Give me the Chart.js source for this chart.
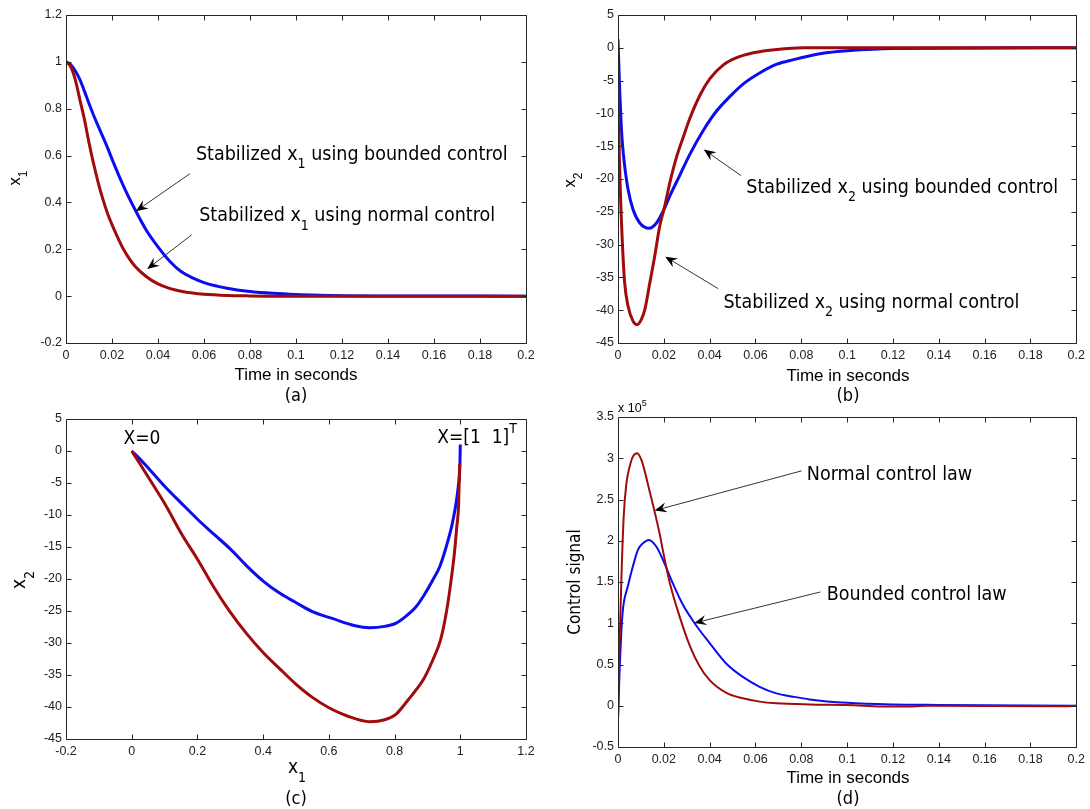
<!DOCTYPE html>
<html><head><meta charset="utf-8">
<script src="https://cdn.jsdelivr.net/npm/chart.js@4.4.1/dist/chart.umd.min.js"></script>
<style>
html,body{margin:0;padding:0;background:#fff;}
#wrap{position:relative;width:1090px;height:809px;overflow:hidden;background:#fff;}
canvas{position:absolute;}
</style></head><body>
<div id="wrap">
<canvas id="ca" width="545" height="409" style="left:0;top:0"></canvas>
<canvas id="cb" width="545" height="409" style="left:545px;top:0"></canvas>
<canvas id="cc" width="545" height="409" style="left:0;top:400px"></canvas>
<canvas id="cd" width="545" height="409" style="left:545px;top:400px"></canvas>
</div>
<script>
// ---------------- DATA ----------------
// (a) x1 vs time
const tA_normal  = [0, 0.002, 0.004, 0.006, 0.008, 0.010, 0.012, 0.014, 0.016, 0.018, 0.020, 0.0225, 0.025, 0.0275, 0.030, 0.035, 0.040, 0.045, 0.050, 0.055, 0.060, 0.070, 0.080, 0.090, 0.100, 0.120, 0.200];
const x1_normal  = [1, 0.98, 0.925, 0.84, 0.755, 0.655, 0.565, 0.485, 0.415, 0.355, 0.305, 0.25, 0.20, 0.16, 0.128, 0.083, 0.052, 0.033, 0.021, 0.013, 0.008, 0.003, 0.001, 0, 0, 0, 0];
const tA_bounded = [0, 0.002, 0.004, 0.006, 0.008, 0.010, 0.012, 0.015, 0.018, 0.020, 0.025, 0.030, 0.035, 0.040, 0.045, 0.050, 0.055, 0.060, 0.070, 0.080, 0.090, 0.100, 0.110, 0.120, 0.140, 0.200];
const x1_bounded = [1, 0.988, 0.962, 0.925, 0.875, 0.822, 0.772, 0.703, 0.635, 0.585, 0.47, 0.37, 0.28, 0.21, 0.15, 0.105, 0.078, 0.058, 0.034, 0.02, 0.012, 0.007, 0.004, 0.002, 0.001, 0];

// (b) x2 vs time
const tB_normal  = [0, 0.0004, 0.001, 0.0019, 0.0029, 0.0044, 0.0066, 0.0083, 0.0102, 0.0117, 0.0139, 0.016, 0.0182, 0.0204, 0.0226, 0.0255, 0.0285, 0.0314, 0.0358, 0.0401, 0.046, 0.0518, 0.0591, 0.0693, 0.081, 0.100, 0.200];
const x2_normal  = [-3, -13.5, -21.6, -29.7, -35.8, -39.4, -41.7, -42.2, -41.4, -39.9, -35.8, -31.8, -27.2, -24.1, -20.6, -16.7, -13.6, -10.7, -7.2, -4.7, -2.6, -1.5, -0.76, -0.25, 0, 0, 0];
const tB_bounded = [0, 0.0004, 0.0008, 0.0013, 0.0019, 0.0029, 0.0044, 0.0066, 0.0095, 0.0136, 0.0168, 0.0197, 0.0226, 0.027, 0.0314, 0.0372, 0.0431, 0.0489, 0.0547, 0.062, 0.0693, 0.0766, 0.0839, 0.090, 0.100, 0.120, 0.200];
const x2_bounded = [1.3, -3, -7, -11, -14.5, -18, -21.6, -24.7, -26.7, -27.5, -26.7, -24.9, -22.6, -19.4, -16.2, -12.6, -9.6, -7.4, -5.5, -3.8, -2.5, -1.8, -1.2, -0.8, -0.45, -0.1, 0];

// (c) phase plane x2 vs x1
const ph_x1_normal  = [0.998, 0.995, 0.989, 0.982, 0.97, 0.957, 0.94, 0.916, 0.89, 0.866, 0.835, 0.805, 0.77, 0.724, 0.656, 0.603, 0.55, 0.497, 0.45, 0.402, 0.349, 0.296, 0.25, 0.201, 0.15, 0.106, 0.053, 0.02, 0];
const ph_x2_normal  = [-2, -8.2, -12, -16, -21, -25.4, -29.5, -32.7, -35.5, -37.3, -39.3, -41.1, -42, -42.3, -41.4, -40.2, -38.5, -36.3, -34, -31.6, -28.5, -24.9, -21.3, -17, -12.8, -8.7, -4.3, -1.6, 0];
const ph_x1_bounded = [1, 0.999, 0.995, 0.987, 0.975, 0.957, 0.938, 0.916, 0.89, 0.866, 0.835, 0.805, 0.77, 0.724, 0.68, 0.6125, 0.55, 0.497, 0.45, 0.402, 0.349, 0.302, 0.25, 0.201, 0.15, 0.1, 0.053, 0.02, 0];
const ph_x2_bounded = [1, -2, -5, -8.2, -11.5, -15, -18, -20.2, -22.5, -24.3, -25.8, -26.9, -27.4, -27.6, -27.3, -26.2, -25.1, -23.6, -22.2, -20.4, -17.9, -15.4, -13.0, -10.7, -8.1, -5.5, -2.8, -1, 0];

// (d) control signal vs time
const tD_normal  = [0, 0.0007, 0.0015, 0.0025, 0.0036, 0.0051, 0.0065, 0.0083, 0.0102, 0.0116, 0.0138, 0.016, 0.0182, 0.0196, 0.0225, 0.0269, 0.0313, 0.0356, 0.040, 0.0473, 0.0545, 0.0618, 0.0691, 0.0836, 0.100, 0.115, 0.125, 0.135, 0.195, 0.200];
const u_normal   = [-19000, 76000, 156000, 230000, 268000, 290000, 302000, 306000, 298000, 285000, 260000, 235000, 208000, 188000, 150000, 108000, 73000, 48000, 31000, 15500, 9000, 5000, 3000, 1600, 1000, -800, -1000, 0, -600, 0];
const tD_bounded = [0, 0.0007, 0.0015, 0.0022, 0.0044, 0.0065, 0.0087, 0.0109, 0.0135, 0.0167, 0.0196, 0.024, 0.0284, 0.0342, 0.040, 0.0473, 0.0545, 0.0618, 0.0691, 0.0764, 0.0836, 0.100, 0.120, 0.140, 0.200];
const u_bounded  = [-17000, 43000, 92000, 118000, 146000, 169000, 189000, 197000, 201000, 193000, 177000, 148000, 122000, 97000, 76000, 51000, 35000, 23000, 15000, 11000, 7700, 3500, 1500, 1000, 0];

// tick values & labels
const timeTicks      = [0, 0.02, 0.04, 0.06, 0.08, 0.1, 0.12, 0.14, 0.16, 0.18, 0.2];
const timeTickLabels = ['0','0.02','0.04','0.06','0.08','0.1','0.12','0.14','0.16','0.18','0.2'];
const x1Ticks        = [-0.2, 0, 0.2, 0.4, 0.6, 0.8, 1, 1.2];
const x1TickLabels   = ['-0.2','0','0.2','0.4','0.6','0.8','1','1.2'];
const x2Ticks        = [-45, -40, -35, -30, -25, -20, -15, -10, -5, 0, 5];
const x2TickLabels   = ['-45','-40','-35','-30','-25','-20','-15','-10','-5','0','5'];
const uTicks         = [-50000, 0, 50000, 100000, 150000, 200000, 250000, 300000, 350000];
const uTickLabels    = ['-0.5','0','0.5','1','1.5','2','2.5','3','3.5'];

// ---------------- STYLE ----------------
const RED = '#A00B0B', BLUE = '#0C0CF0';
const ARIAL = '"Liberation Sans", Arial, sans-serif';
const TAH = '"DejaVu Sans Condensed", "DejaVu Sans", sans-serif';
const NOTE = 19.5;

function pts(xs, ys){ return xs.map((x,i)=>({x:x, y:ys[i]})); }

function axis(vals, labels, fitSize, isX){
  return {
    type:'linear', min: Math.min.apply(null, vals), max: Math.max.apply(null, vals),
    grid:{display:false, drawTicks:false}, border:{display:false},
    afterBuildTicks: s => { s.ticks = vals.map(v=>({value:v})); },
    afterFit: s => { if(isX) s.height = fitSize; else s.width = fitSize; },
    ticks:{autoSkip:false, maxRotation:0, minRotation:0, padding: isX?5:4, color:'#222',
      font:{family:ARIAL, size:12.5}, callback:(v,i)=>labels[i]}
  };
}

function ds(xs, ys, color, w){
  return {data:pts(xs,ys), borderColor:color, backgroundColor:color, borderWidth:w,
    pointRadius:0, showLine:true, fill:false, cubicInterpolationMode:'monotone'};
}

const frame = {
  id:'frame',
  afterDatasetsDraw(chart){
    const ctx = chart.ctx, a = chart.chartArea, sx = chart.scales.x, sy = chart.scales.y;
    ctx.save();
    ctx.strokeStyle = '#262626'; ctx.lineWidth = 1;
    const l = Math.round(a.left)+0.5, r = Math.round(a.right)+0.5, t = Math.round(a.top)+0.5, b = Math.round(a.bottom)+0.5;
    ctx.beginPath(); ctx.rect(l, t, r-l, b-t);
    const L = 5;
    sx.ticks.forEach(tk=>{ const p = Math.round(sx.getPixelForValue(tk.value))+0.5;
      ctx.moveTo(p,b); ctx.lineTo(p,b-L); ctx.moveTo(p,t); ctx.lineTo(p,t+L); });
    sy.ticks.forEach(tk=>{ const p = Math.round(sy.getPixelForValue(tk.value))+0.5;
      ctx.moveTo(l,p); ctx.lineTo(l+L,p); ctx.moveTo(r,p); ctx.lineTo(r-L,p); });
    ctx.stroke();
    ctx.restore();
  }
};

function drawRich(ctx, parts, x, y, size, family, align, rot, color){
  const fontOf = k => (k ? Math.round(size*0.72) : size) + 'px ' + family;
  let total = 0; const ws = [];
  parts.forEach(p=>{ ctx.font = fontOf(p[1]); const w = ctx.measureText(p[0]).width; ws.push(w); total += w; });
  ctx.save();
  ctx.translate(x, y); if (rot) ctx.rotate(rot);
  let cx = align === 'center' ? -total/2 : 0;
  ctx.fillStyle = color || '#000'; ctx.textBaseline = 'alphabetic'; ctx.textAlign = 'left';
  parts.forEach((p,i)=>{
    ctx.font = fontOf(p[1]);
    const dy = p[1]==='sub' ? size*0.45 : (p[1]==='sup' ? -size*0.5 : 0);
    ctx.fillText(p[0], cx, dy); cx += ws[i];
  });
  ctx.restore();
}

function drawArrow(ctx, x1, y1, x2, y2){
  const ang = Math.atan2(y2-y1, x2-x1), L = 12, W = 5;
  const c = Math.cos(ang), s = Math.sin(ang), nx = -s, ny = c;
  ctx.save();
  ctx.strokeStyle = '#333'; ctx.lineWidth = 1;
  ctx.beginPath(); ctx.moveTo(x1,y1); ctx.lineTo(x2 - c*L*0.6, y2 - s*L*0.6); ctx.stroke();
  ctx.fillStyle = '#000';
  const bx = x2 - c*L, by = y2 - s*L;
  ctx.beginPath(); ctx.moveTo(x2,y2);
  ctx.lineTo(bx + nx*W, by + ny*W);
  ctx.lineTo(x2 - c*L*0.65, y2 - s*L*0.65);
  ctx.lineTo(bx - nx*W, by - ny*W);
  ctx.closePath(); ctx.fill();
  ctx.restore();
}

function notes(items){
  return { id:'notes', afterDraw(chart){
    const ctx = chart.ctx, sx = chart.scales.x, sy = chart.scales.y;
    const P = (p, mode) => mode === 'px' ? p : [sx.getPixelForValue(p[0]), sy.getPixelForValue(p[1])];
    items.forEach(it=>{
      if (it.arrow) { const f = P(it.from), t = P(it.to); drawArrow(ctx, f[0], f[1], t[0], t[1]); }
      else { const q = P(it.at, it.mode); drawRich(ctx, it.parts, q[0], q[1], it.size, it.family, it.align||'left', it.rot||0, it.color); }
    });
  }};
}

function makeChart(id, datasets, xAx, yAx, pad, items){
  return new Chart(document.getElementById(id), {
    type:'scatter',
    data:{datasets:datasets},
    options:{responsive:false, animation:false, devicePixelRatio:1,
      layout:{padding:pad},
      plugins:{legend:{display:false}, tooltip:{enabled:false}},
      scales:{x:xAx, y:yAx}},
    plugins:[frame, notes(items)]
  });
}

const ROT = -Math.PI/2;

// (a)
makeChart('ca',
  [ds(tA_normal, x1_normal, RED, 3), ds(tA_bounded, x1_bounded, BLUE, 3)],
  axis(timeTicks, timeTickLabels, 66, true), axis(x1Ticks, x1TickLabels, 66, false),
  {left:0, right:19, top:15, bottom:0},
  [
    {at:[0.0565, 0.5826], parts:[['Stabilized x',''],['1','sub'],[' using bounded control','']], size:NOTE, family:TAH},
    {arrow:true, from:[0.0539, 0.5229], to:[0.0304, 0.3626]},
    {at:[0.0579, 0.3198], parts:[['Stabilized x',''],['1','sub'],[' using normal control','']], size:NOTE, family:TAH},
    {arrow:true, from:[0.0546, 0.2614], to:[0.0353, 0.1157]},
    {mode:'px', at:[20, 178], parts:[['x',''],['1','sub']], size:16.5, family:ARIAL, align:'center', rot:ROT},
    {mode:'px', at:[296, 380], parts:[['Time in seconds','']], size:17, family:ARIAL, align:'center'},
    {mode:'px', at:[296, 401], parts:[['(a)','']], size:18, family:TAH, align:'center'}
  ]);

// (b)
makeChart('cb',
  [ds(tB_normal, x2_normal, RED, 3), ds(tB_bounded, x2_bounded, BLUE, 3)],
  axis(timeTicks, timeTickLabels, 66, true), axis(x2Ticks, x2TickLabels, 73, false),
  {left:0, right:12, top:15, bottom:0},
  [
    {at:[0.056, -22.07], parts:[['Stabilized x',''],['2','sub'],[' using bounded control','']], size:NOTE, family:TAH},
    {arrow:true, from:[0.0537, -19.48], to:[0.0374, -15.51]},
    {at:[0.046, -39.61], parts:[['Stabilized x',''],['2','sub'],[' using normal control','']], size:NOTE, family:TAH},
    {arrow:true, from:[0.0437, -36.71], to:[0.0206, -31.84]},
    {mode:'px', at:[30, 180], parts:[['x',''],['2','sub']], size:16.5, family:ARIAL, align:'center', rot:ROT},
    {mode:'px', at:[303, 381], parts:[['Time in seconds','']], size:17, family:ARIAL, align:'center'},
    {mode:'px', at:[303, 401], parts:[['(b)','']], size:18, family:TAH, align:'center'}
  ]);

// (c)
makeChart('cc',
  [ds(ph_x1_normal, ph_x2_normal, RED, 3), ds(ph_x1_bounded, ph_x2_bounded, BLUE, 3)],
  axis(x1Ticks, x1TickLabels, 70, true), axis(x2Ticks, x2TickLabels, 66, false),
  {left:0, right:19, top:19, bottom:0},
  [
    {at:[-0.0252, 1.05], parts:[['X=0','']], size:19, family:TAH},
    {at:[0.93, 1.3], parts:[['X=[1  1]',''],['T','sup']], size:19, family:TAH},
    {mode:'px', at:[25, 180], parts:[['x',''],['2','sub']], size:19, family:TAH, align:'center', rot:ROT},
    {mode:'px', at:[297, 373], parts:[['x',''],['1','sub']], size:19, family:TAH, align:'center'},
    {mode:'px', at:[296, 404], parts:[['(c)','']], size:18, family:TAH, align:'center'}
  ]);

// (d)
makeChart('cd',
  [ds(tD_normal, u_normal, RED, 2), ds(tD_bounded, u_bounded, BLUE, 2)],
  axis(timeTicks, timeTickLabels, 62, true), axis(uTicks, uTickLabels, 73, false),
  {left:0, right:12, top:17, bottom:0},
  [
    {at:[0.0824, 273800], parts:[['Normal control law','']], size:NOTE, family:TAH},
    {arrow:true, from:[0.0801, 284700], to:[0.016, 236600]},
    {at:[0.0911, 128000], parts:[['Bounded control law','']], size:NOTE, family:TAH},
    {arrow:true, from:[0.0883, 137900], to:[0.0333, 100300]},
    {mode:'px', at:[73, 12], parts:[['x 10',''],['5','sup']], size:12.5, family:ARIAL},
    {mode:'px', at:[35, 182], parts:[['Control signal','']], size:17, family:TAH, align:'center', rot:ROT},
    {mode:'px', at:[303, 383], parts:[['Time in seconds','']], size:17, family:ARIAL, align:'center'},
    {mode:'px', at:[303, 404], parts:[['(d)','']], size:18, family:TAH, align:'center'}
  ]);
</script>
</body></html>
